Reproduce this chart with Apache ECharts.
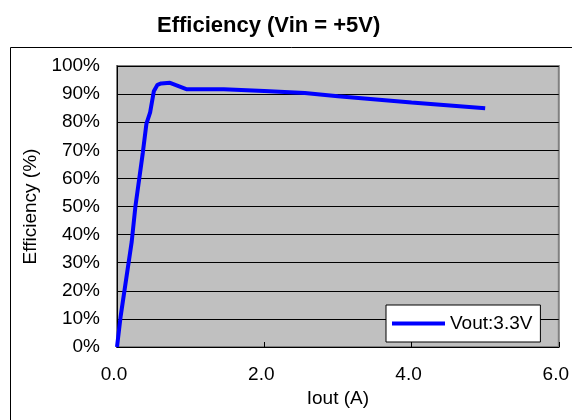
<!DOCTYPE html>
<html>
<head>
<meta charset="utf-8">
<title>Efficiency (Vin = +5V)</title>
<script src="https://cdn.jsdelivr.net/npm/echarts@6/dist/echarts.min.js"></script>
<style>
  html, body { margin: 0; padding: 0; background: #fff; }
  #chart { width: 572px; height: 420px; }
</style>
</head>
<body>
<div id="chart"></div>
<script>
// Iout (A)
const iout = [0, 0.05, 0.2, 0.25, 0.35, 0.4, 0.45, 0.5, 0.55, 0.6, 0.72, 0.8, 0.95, 1.45, 2.0, 2.55, 3.0, 4.0, 5.0];
// efficiency (%) at Vout = 3.3V
const efficiency = [0, 11, 37.5, 50, 69, 79.5, 83.5, 91, 93.3, 93.8, 94, 93.2, 91.7, 91.7, 91.1, 90.4, 89.2, 87, 85];
const seriesName = "Vout:3.3V";

const font = "'Liberation Sans', Arial, sans-serif";
let myChart = echarts.init(document.getElementById("chart"));

let option = {
  animation: false,
  textStyle: { fontFamily: font },
  title: {
    text: "Efficiency (Vin = +5V)",
    left: 152,
    top: 10,
    textStyle: { fontFamily: font, fontSize: 22, fontWeight: "bold", color: "#000" },
  },
  // outer chart frame
  graphic: [
    {
      type: "rect",
      left: 8,
      top: 45,
      shape: { width: 620, height: 420 },
      style: { fill: "none", stroke: "#000", lineWidth: 1 },
      silent: true,
    },
  ],
  legend: {
    data: [seriesName],
    left: 386,
    top: 305,
    padding: [9, 8, 9, 6],
    backgroundColor: "#fff",
    borderColor: "#000",
    borderWidth: 1,
    icon: "rect",
    itemWidth: 53,
    itemHeight: 4,
    itemGap: 5,
    textStyle: { fontFamily: font, fontSize: 19, color: "#000" },
  },
  grid: {
    left: 117,
    top: 66,
    width: 442,
    height: 281,
    show: true,
    backgroundColor: "#C0C0C0",
    borderColor: "#808080",
    borderWidth: 2,
  },
  xAxis: {
    type: "value",
    min: 0,
    max: 6,
    interval: 2,
    name: "Iout (A)",
    nameLocation: "middle",
    nameGap: 40,
    nameTextStyle: { fontFamily: font, fontSize: 19, color: "#000" },
    axisLine: { show: true, lineStyle: { color: "#000", width: 1 } },
    axisTick: { show: true, inside: true, length: 5, lineStyle: { color: "#000" } },
    axisLabel: {
      margin: 18,
      fontSize: 19,
      color: "#000",
      padding: [0, 6, 0, 0],
      formatter: (v) => v.toFixed(1),
    },
    splitLine: { show: false },
  },
  yAxis: {
    type: "value",
    min: 0,
    max: 100,
    interval: 10,
    name: "Efficiency (%)",
    nameLocation: "middle",
    nameGap: 74,
    nameTextStyle: { fontFamily: font, fontSize: 19, color: "#000" },
    axisLine: { show: true, lineStyle: { color: "#000", width: 1 } },
    axisTick: { show: true, inside: true, length: 5, lineStyle: { color: "#000" } },
    axisLabel: { margin: 17, fontSize: 19, color: "#000", formatter: "{value}%" },
    splitLine: { show: true, lineStyle: { color: "#000", width: 1 } },
  },
  series: [
    {
      name: seriesName,
      type: "line",
      data: iout.map((x, i) => [x, efficiency[i]]),
      showSymbol: false,
      color: "#0000FF",
      lineStyle: { color: "#0000FF", width: 4 },
    },
  ],
};
myChart.setOption(option);
</script>
</body>
</html>
